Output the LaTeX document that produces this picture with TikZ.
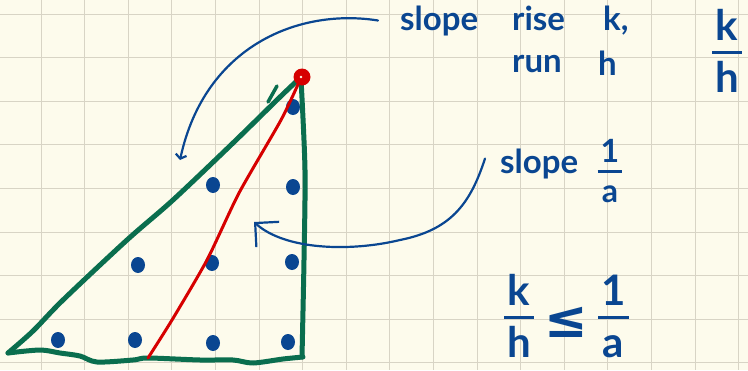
\documentclass[tikz,border=0pt]{standalone}
\usepackage{fontspec}
\setmainfont{Lato}
\newfontfamily\simboli{DejaVu Sans}
\usepackage{xcolor}
\usepackage{tikz}
\usetikzlibrary{arrows.meta}
\usetikzlibrary{positioning}

\definecolor{carta}{RGB}{253,251,236}
\definecolor{quadretti}{RGB}{216,212,197}
\definecolor{verdone}{RGB}{10,110,78}
\definecolor{rossopenna}{RGB}{214,0,0}
\definecolor{blupenna}{RGB}{10,70,145}

\setlength{\arrayrulewidth}{3pt}
\newcommand{\frazione}[2]{\begin{tabular}{@{\hspace{3pt}}c@{\hspace{3pt}}}#1\\[-3pt]\hline\rule{0pt}{0.9em}#2\end{tabular}}

\begin{document}
\begin{tikzpicture}[x=1pt, y=-1pt,
        griglia/.style={draw=quadretti, line width=1pt},
        verde/.style={draw=verdone, line width=5pt, line cap=round, line join=round},
        rosso/.style={draw=rossopenna, line width=3pt, line cap=round},
        penna/.style={draw=blupenna, line width=2.2pt, line cap=round},
        punto/.style={fill=blupenna},
        scritta/.style={text=blupenna, inner sep=0pt, font=\fontsize{33}{38}\selectfont\bfseries},
        grande/.style={scritta, font=\fontsize{42}{46}\selectfont\bfseries}]
        % Foglio a quadretti
        \useasboundingbox (0,0) rectangle (748,370);
        \fill[carta] (0,0) rectangle (748,370);
        \foreach \i in {0,...,16}
            \draw[griglia] ({41+43.6*\i},0) -- ({41+43.6*\i},370);
        \foreach \j in {0,...,8}
            \draw[griglia] (0,{14+43.6*\j}) -- (748,{14+43.6*\j});
        
        % Punti del reticolo
        \foreach \p in {(293,107),(213,185),(293,187),(138,265),(212,263),(292,262),(58,340),(135,340),(213,343),(288,342)}
            \fill[punto] \p ellipse [x radius=7pt, y radius=8pt];
        
        % Triangolo
        \draw[verde] plot[smooth] coordinates {(303,357) (283,359) (253,363) (233,360) (200,360) (148,358) (133,360) (97,362) (80,356) (60,353) (40,350) (8,353)};
        \draw[verde] plot[smooth] coordinates {(8,353) (33,331) (63,300) (127,240) (173,200) (233,143) (280,97) (300,78)};
        \draw[verde] plot[smooth] coordinates {(301,79) (305,170) (304,260) (302,357)};
        \draw[verde, line width=3.5pt] (268,102) -- (277,86);
        
        % Retta rossa e vertice
        \draw[rosso] plot[smooth, tension=0.4] coordinates {(148,358) (172,320) (207,260) (239,193) (281,120) (300,80)};
        \fill[rossopenna] (302,77) circle (8.5pt);
        \fill[carta] (301,77) circle (1.3pt);
        
        % Scritte
        \node[scritta, anchor=base west] (slopeTop) at (400,30) {slope};
        \node[scritta, anchor=base west] (rise) at (512,30) {rise};
        \node[scritta, anchor=base west] (kTop) at (603,30) {k,};
        \node[scritta, anchor=base west] (run) at (512,72) {run};
        \node[scritta, anchor=base west] (hTop) at (598,75) {h};
        \node[grande] (rapporto) at (727,57) {\frazione{k}{h}};
        \node[scritta, anchor=base west] (slopeMid) at (500,173) {slope};
        \node[scritta, font=\fontsize{32}{36}\selectfont\bfseries] (unoSuA) at (610,175) {\frazione{1}{a}};
        \node[grande] (kSuH) at (519,322) {\frazione{k}{h}};
        \node[grande, font=\fontsize{52}{56}\selectfont\bfseries, right=10pt of kSuH] (minore) {\simboli ≤};
        \node[grande, right=10pt of minore] (unoSuA2) {\frazione{1}{a}};
        
        % Frecce
        \coordinate (lato) at (180,160);
        \coordinate (retta) at (254,222);
        \draw[penna, -{Straight Barb[length=4pt, width=11pt]}] ([xshift=-22pt]slopeTop.west) .. controls (300,8) and (205,45) .. (lato);
        \draw[penna, -{Straight Barb[length=17pt, width=34pt]}] ([xshift=-15pt, yshift=5pt]slopeMid.west) .. controls (470,205) and (450,230) .. (400,240) .. controls (350,252) and (285,250) .. (retta);
\end{tikzpicture}
\end{document}
